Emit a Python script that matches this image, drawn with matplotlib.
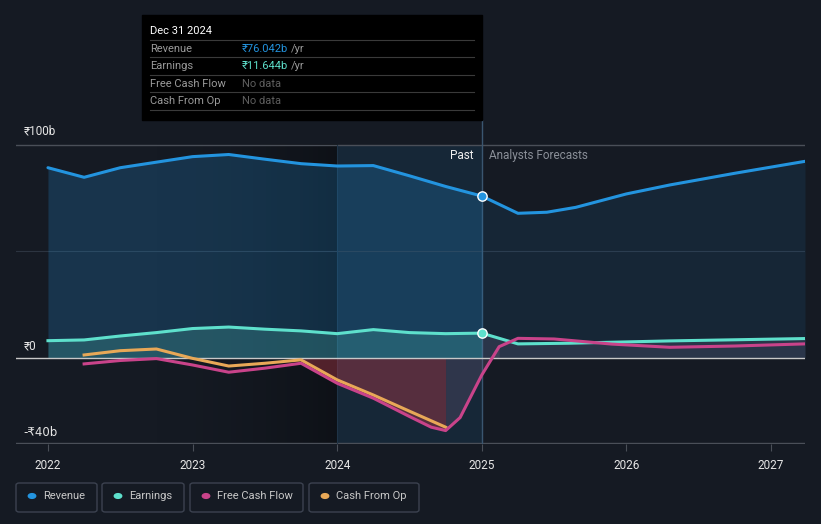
import numpy as np
import matplotlib
matplotlib.use("Agg")
import matplotlib.pyplot as plt
from matplotlib.patches import Rectangle, FancyBboxPatch
from matplotlib.lines import Line2D

plt.rcParams['font.family'] = ['Roboto', 'DejaVu Sans']

# --- data (₹ billions)
rev_t = [2022.0, 2022.25, 2022.5, 2022.75, 2023.0, 2023.25, 2023.5, 2023.75,
         2024.0, 2024.25, 2024.5, 2024.75, 2025.0]
rev_v = [89.3, 84.8, 89.3, 91.9, 94.5, 95.5, 93.3, 91.2, 90.1, 90.3, 85.5, 80.5, 76.0]
rev_fc_t = [2025.0, 2025.25, 2025.45, 2025.65, 2026.0, 2026.3, 2026.75, 2027.235]
rev_fc_v = [76.0, 67.9, 68.4, 70.7, 77.0, 81.2, 86.7, 92.3]

earn_t = [2022.0, 2022.25, 2022.5, 2022.75, 2023.0, 2023.25, 2023.5, 2023.75,
          2024.0, 2024.25, 2024.5, 2024.75, 2025.0]
earn_v = [8.1, 8.45, 10.3, 11.9, 13.8, 14.5, 13.5, 12.7, 11.4, 13.3, 11.9, 11.4, 11.644]
earn_fc_t = [2025.0, 2025.25, 2025.6, 2026.3, 2027.235]
earn_fc_v = [11.644, 6.6, 6.9, 8.0, 9.1]

fcf_t = [2022.25, 2022.5, 2022.75, 2023.0, 2023.25, 2023.5, 2023.75, 2024.0,
         2024.25, 2024.5, 2024.65, 2024.75, 2024.85, 2025.0, 2025.12, 2025.25,
         2025.5, 2025.9, 2026.3, 2026.75, 2027.235]
fcf_v = [-2.8, -1.2, -0.3, -3.3, -6.7, -4.8, -2.5, -11.9,
         -18.9, -27.5, -32.5, -34.1, -28.0, -8.0, 5.3, 9.2,
         8.9, 6.5, 5.0, 5.6, 6.6]

cfo_t = [2022.25, 2022.5, 2022.75, 2023.0, 2023.25, 2023.5, 2023.75, 2024.0,
         2024.25, 2024.5, 2024.75]
cfo_v = [1.4, 3.4, 4.2, -0.2, -3.8, -2.5, -0.9, -10.3, -17.4, -25.0, -32.5]

year_ticks = [2022, 2023, 2024, 2025, 2026, 2027]
legend_names = ['Revenue', 'Earnings', 'Free Cash Flow', 'Cash From Op']

c_rev = '#2394df'
c_earn = '#5ee0cc'
c_fcf = '#c9438a'
c_cfo = '#e8a857'
bg = '#151a23'

W, H = 821, 524
fig = plt.figure(figsize=(W / 100, H / 100), dpi=100, facecolor=bg)


def fx(px):
    return px / W


def fy(py):
    return 1 - py / H


ax = fig.add_axes([fx(16), fy(444), fx(805 - 16), (444 - 120) / H])
ax.set_facecolor(bg)
x0, x1 = 2021.779, 2027.235
ax.set_xlim(x0, x1)
ax.set_ylim(-40.4, 111.7)
for s in ax.spines.values():
    s.set_visible(False)

# darkening towards 2024 and highlighted last year
grad = np.linspace(0, 1, 256).reshape(1, -1) ** 2
rgba = np.zeros((1, 256, 4))
rgba[..., 3] = grad * 0.35
ax.imshow(rgba, extent=[2022.6, 2024.0, -40.4, 100], aspect='auto', zorder=0)
ax.fill_between([2024.0, 2025.0], -40.1, 100, color='#1c4a6e', alpha=0.28, lw=0, zorder=0)

# grid lines
ax.axhline(100, color='#4a4f58', lw=1, zorder=1)
ax.axhline(50, color='#2c3440', lw=0.8, zorder=1)
ax.axhline(-40.1, color='#4a4f58', lw=1, zorder=1)
ax.axvline(2025.0, color='#3a5670', lw=1, zorder=1)
ax.plot([2024.0, 2024.0], [-40.1, 100], color='#1f3346', lw=0.8, zorder=1)

# fills
ax.fill_between(rev_t, rev_v, 0, color=c_rev, alpha=0.22, lw=0, zorder=2)
ax.fill_between(rev_fc_t, rev_fc_v, 0, color=c_rev, alpha=0.1, lw=0, zorder=2)
ax.fill_between(earn_t, earn_v, 0, color=c_earn, alpha=0.2, lw=0, zorder=2)
ax.fill_between(earn_fc_t, earn_fc_v, 0, color='#8a7aa0', alpha=0.18, lw=0, zorder=2)
fcf_t_a = np.array(fcf_t)
fcf_v_a = np.array(fcf_v)
m = (fcf_t_a >= 2023.75) & (fcf_t_a <= 2024.75)
ax.fill_between(fcf_t_a[m], fcf_v_a[m], 0, color='#b83a4a', alpha=0.4, lw=0, zorder=2)
m2 = (fcf_t_a >= 2024.75) & (fcf_t_a <= 2025.12)
ax.fill_between(fcf_t_a[m2], fcf_v_a[m2], 0, color='#6a5a7a', alpha=0.3, lw=0, zorder=2)

ax.axhline(0, color='#c8c8c8', lw=1, zorder=3)

# lines
ax.plot(rev_t, rev_v, color=c_rev, lw=2.2, zorder=5, solid_capstyle='round')
ax.plot(rev_fc_t, rev_fc_v, color=c_rev, lw=2.2, zorder=5, solid_capstyle='round')
ax.plot(earn_t, earn_v, color=c_earn, lw=2.2, zorder=5)
ax.plot(earn_fc_t, earn_fc_v, color=c_earn, lw=2.2, zorder=5)
ax.plot(cfo_t, cfo_v, color=c_cfo, lw=2.2, zorder=6)
ax.plot(fcf_t, fcf_v, color=c_fcf, lw=2.2, zorder=6)

ax.scatter([rev_t[-1]], [rev_v[-1]], s=45, color=c_rev, edgecolor='white', lw=1, zorder=8)
ax.scatter([earn_t[-1]], [earn_v[-1]], s=45, color=c_earn, edgecolor='white', lw=1, zorder=8)

# x ticks
ax.set_xticks(year_ticks)
ax.set_xticklabels([str(y) for y in year_ticks], color='#e6e6e6', fontsize=8.5)
ax.tick_params(axis='x', length=5, color='#4a4f58', pad=6)
ax.set_yticks([])

# y labels
fig.text(fx(24), fy(131), '₹100b', color='#e6e6e6', fontsize=8.5, va='center')
fig.text(fx(24), fy(346), '₹0', color='#e6e6e6', fontsize=8.5, va='center')
fig.text(fx(23), fy(432), '-₹40b', color='#e6e6e6', fontsize=8.5, va='center',
         family='DejaVu Sans')

fig.text(fx(473), fy(156), 'Past', color='#f0f0f0', fontsize=8.5, va='center', ha='right')
fig.text(fx(489), fy(156), 'Analysts Forecasts', color='#8a8f98', fontsize=8.5, va='center')

# tooltip
fig.patches.append(Rectangle((fx(142), fy(120)), fx(482 - 142), (120 - 15) / H,
                             transform=fig.transFigure, color='black', zorder=10))
fig.text(fx(150), fy(31), 'Dec 31 2024', color='white', fontsize=8, va='center', zorder=11)
for yy in [40, 57, 75, 92, 110]:
    fig.lines.append(Line2D([fx(150), fx(474)], [fy(yy), fy(yy)], transform=fig.transFigure,
                            color='#3a3a3a', lw=0.8, zorder=11))
rows = [('Revenue', '₹76.042b', c_rev, 49), ('Earnings', '₹11.644b', c_earn, 66),
        ('Free Cash Flow', None, None, 84), ('Cash From Op', None, None, 101)]
for name, val, col, yy in rows:
    fig.text(fx(150), fy(yy), name, color='#9a9a9a', fontsize=8, va='center', zorder=11)
    if val is None:
        fig.text(fx(242), fy(yy), 'No data', color='#5e5e5e', fontsize=8, va='center', zorder=11)
    else:
        t = fig.text(fx(242), fy(yy), val, color=col, fontsize=8, va='center', zorder=11)
        fig.canvas.draw()
        bb = t.get_window_extent()
        fig.text(bb.x1 / W + fx(3), fy(yy), '/yr', color='#9a9a9a', fontsize=8, va='center', zorder=11)

# legend boxes
boxes = [(16, 97), (102, 184), (190, 303), (309, 419)]
colors = [c_rev, c_earn, c_fcf, c_cfo]
for (bx0, bx1), name, col in zip(boxes, legend_names, colors):
    fig.patches.append(FancyBboxPatch((fx(bx0), fy(512)), fx(bx1 - bx0), 29 / H,
                                      boxstyle='round,pad=0,rounding_size=0.004',
                                      transform=fig.transFigure, facecolor=bg,
                                      edgecolor='#3c4250', lw=1))
    fig.patches.append(plt.Circle((fx(bx0 + 16), fy(496)), 0.0045, transform=fig.transFigure,
                                  color=col))
    fig.text(fx(bx0 + 27), fy(496), name, color='#c8c8c8', fontsize=8, va='center')

plt.savefig('out.png', dpi=100, facecolor=bg)
plt.close()
